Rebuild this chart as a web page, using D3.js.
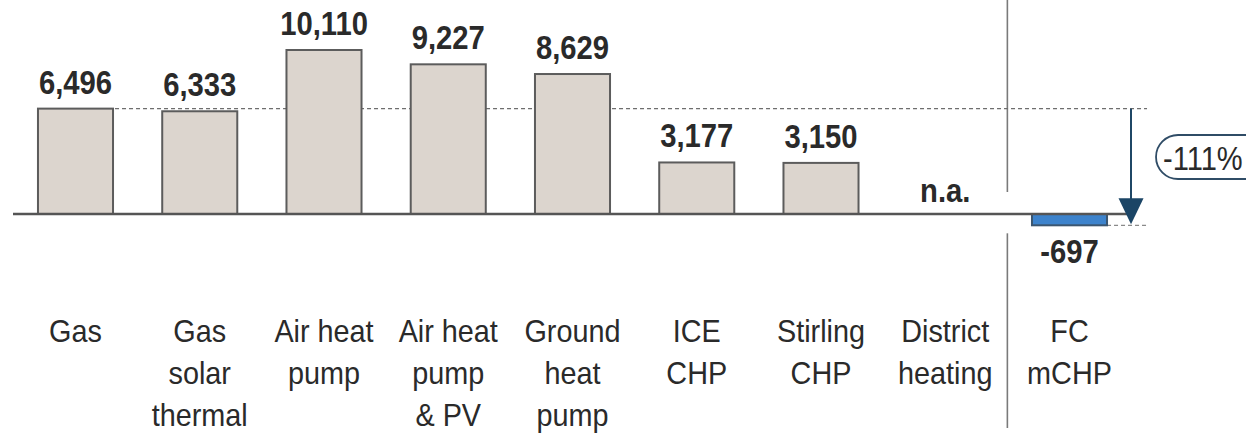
<!DOCTYPE html>
<html>
<head>
<meta charset="utf-8">
<script src="https://cdn.jsdelivr.net/npm/d3@7"></script>
<style>
  body { margin: 0; background: #fff; }
  svg { display: block; font-family: "Liberation Sans", Arial, sans-serif; }
</style>
</head>
<body>
<script>
// categories (one entry per bar) and their label lines
var categories = ['Gas', 'Gas solar thermal', 'Air heat pump', 'Air heat pump & PV',
                  'Ground heat pump', 'ICE CHP', 'Stirling CHP', 'District heating', 'FC mCHP'];
var labelLines = [['Gas'], ['Gas', 'solar', 'thermal'], ['Air heat', 'pump'], ['Air heat', 'pump', '& PV'],
                  ['Ground', 'heat', 'pump'], ['ICE', 'CHP'], ['Stirling', 'CHP'], ['District', 'heating'], ['FC', 'mCHP']];
// values, null = not available
var values = [6496, 6333, 10110, 9227, 8629, 3177, 3150, null, -697];
var highlight = 'FC mCHP';
var reference = 'Gas';

var width = 1246, height = 435;

var svg = d3.select("body").append("svg")
    .attr("width", width)
    .attr("height", height);

// scales
var x = d3.scaleBand()
    .domain(categories)
    .range([0.7, 1144.3])
    .paddingInner(0.396)
    .paddingOuter(0.3);
var y = d3.scaleLinear()
    .domain([0, 10110])
    .range([214, 50]);

var fmt = d3.formatLocale({decimal: ".", thousands: ",", grouping: [3], currency: ["", ""], minus: "-"}).format(",");

var data = categories.map(function(c, i) {
  return {cat: c, value: values[i], lines: labelLines[i]};
});

var refValue = values[categories.indexOf(reference)];
var hiValue = values[categories.indexOf(highlight)];
var xHi = x(highlight);
var arrowX = xHi + x.bandwidth() + 24;
var sepX = xHi - x.step() * x.paddingInner() / 2;

// condensed text helper (the original uses a narrow font)
function addText(g, px, py, size, weight, str, sx) {
  return g.append("text")
      .attr("transform", "translate(" + px + "," + py + ") scale(" + (sx || 0.9) + ",1)")
      .attr("text-anchor", "middle")
      .style("font-size", size + "px")
      .style("font-weight", weight)
      .style("fill", "#2a2a2a")
      .text(str);
}

// separator between the FC mCHP and the other technologies
svg.append("line")
    .attr("x1", sepX).attr("x2", sepX)
    .attr("y1", 0).attr("y2", y(0) - 22)
    .style("stroke", "#7a7a7a").style("stroke-width", 1.6);
svg.append("line")
    .attr("x1", sepX).attr("x2", sepX)
    .attr("y1", y(hiValue) + 8).attr("y2", 428)
    .style("stroke", "#7a7a7a").style("stroke-width", 1.6);

// dashed reference lines
svg.append("line")
    .attr("x1", x(reference) + x.bandwidth() + 2).attr("x2", arrowX + 16)
    .attr("y1", y(refValue)).attr("y2", y(refValue))
    .style("stroke", "#6e6e6e").style("stroke-width", 1.2)
    .style("stroke-dasharray", "4,3");
svg.append("line")
    .attr("x1", xHi + x.bandwidth()).attr("x2", arrowX + 16)
    .attr("y1", y(hiValue)).attr("y2", y(hiValue))
    .style("stroke", "#8a8a8a").style("stroke-width", 1.2)
    .style("stroke-dasharray", "4,3");

// bars
svg.selectAll(".bar")
    .data(data.filter(function(d) { return d.value !== null; }))
  .enter().append("rect")
    .attr("class", "bar")
    .attr("x", function(d) { return x(d.cat); })
    .attr("y", function(d) { return y(Math.max(0, d.value)); })
    .attr("width", x.bandwidth())
    .attr("height", function(d) { return Math.abs(y(d.value) - y(0)); })
    .style("fill", function(d) { return d.cat === highlight ? "#3d83cc" : "#dcd5ce"; })
    .style("stroke", function(d) { return d.cat === highlight ? "#3b5670" : "#5c5c5c"; })
    .style("stroke-width", 2);

// zero line
svg.append("line")
    .attr("x1", 13).attr("x2", arrowX)
    .attr("y1", y(0)).attr("y2", y(0))
    .style("stroke", "#555").style("stroke-width", 2.4);

// arrow from reference to highlight
svg.append("line")
    .attr("x1", arrowX).attr("x2", arrowX)
    .attr("y1", y(refValue)).attr("y2", y(hiValue) - 22)
    .style("stroke", "#1f4766").style("stroke-width", 2);
svg.append("path")
    .attr("d", "M" + (arrowX - 12.5) + "," + (y(hiValue) - 27) + "L" + (arrowX + 12.5) + "," + (y(hiValue) - 27) +
               "L" + arrowX + "," + (y(hiValue) - 1) + "Z")
    .style("fill", "#1b4566");

// percentage bubble
var pct = Math.round((hiValue - refValue) / refValue * 100);
svg.append("rect")
    .attr("x", arrowX + 25).attr("y", 135)
    .attr("width", 112).attr("height", 44)
    .attr("rx", 22).attr("ry", 22)
    .style("fill", "#fff").style("stroke", "#2f4c66").style("stroke-width", 1.8);
addText(svg, arrowX + 32, 170, 33, "normal", fmt(pct) + "%", 0.88)
    .attr("text-anchor", "start");

// value labels
data.forEach(function(d) {
  var cx = x(d.cat) + x.bandwidth() / 2;
  if (d.value === null) {
    addText(svg, cx, y(0) - 12, 34, "bold", "n.a.", 0.86);
  } else if (d.value < 0) {
    addText(svg, cx, y(d.value) + 38, 34, "bold", fmt(d.value), 0.86);
  } else {
    addText(svg, cx, y(d.value) - 15, 34, "bold", fmt(d.value), 0.86);
  }
});

// category labels
data.forEach(function(d) {
  var cx = x(d.cat) + x.bandwidth() / 2;
  var t = addText(svg, cx, 342, 32, "normal", null);
  t.selectAll("tspan")
      .data(d.lines)
    .enter().append("tspan")
      .attr("x", 0)
      .attr("y", function(l, i) { return i * 42; })
      .text(function(l) { return l; });
});
</script>
</body>
</html>
